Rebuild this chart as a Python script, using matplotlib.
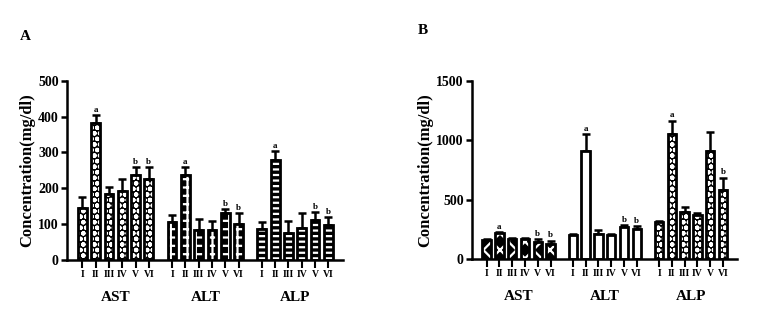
import numpy as np
import matplotlib
matplotlib.use("Agg")
import matplotlib.pyplot as plt

plt.rcParams["font.family"] = ["Liberation Serif", "DejaVu Serif"]
plt.rcParams["font.weight"] = "bold"
plt.rcParams["axes.labelweight"] = "bold"
plt.rcParams["hatch.linewidth"] = 1.6

groups = ["AST", "ALT", "ALP"]
doses = ["I", "II", "III", "IV", "V", "VI"]

# panel A: means and upper error values
a_means = [[145, 383, 183, 192, 238, 225],
           [105, 237, 83, 85, 132, 100],
           [87, 280, 75, 90, 112, 98]]
a_errs = [[30, 22, 20, 33, 20, 33],
          [20, 21, 30, 23, 11, 30],
          [18, 23, 33, 42, 23, 22]]
a_marks = [["", "a", "", "", "b", "b"],
           ["", "a", "", "", "b", "b"],
           ["", "a", "", "", "b", "b"]]

# panel B
b_means = [[160, 215, 165, 170, 145, 130],
           [200, 905, 210, 205, 270, 250],
           [310, 1055, 395, 370, 910, 580]]
b_errs = [[8, 12, 8, 8, 20, 25],
          [8, 145, 35, 8, 12, 30],
          [12, 110, 40, 15, 160, 105]]
b_marks = [["", "a", "", "", "b", "b"],
           ["", "a", "", "", "b", "b"],
           ["", "a", "", "", "", "b"]]

# hatch style per group: (face, hatch colour, hatch)
a_styles = [("black", "white", "ooo"), ("black", "white", "++"), ("black", "white", "---")]
b_styles = [("black", "white", "xx"), ("white", "white", ""), ("black", "white", "ooo")]

gap = 6.75
width = 0.66


def draw(ax, means, errs, marks, styles, ymax, step, off):
    ticks, labels = [], []
    for g in range(3):
        x = np.arange(6) + g * gap
        face, hc, hatch = styles[g]
        ax.bar(x, means[g], width, color=face, edgecolor=hc, hatch=hatch, linewidth=0, zorder=2)
        ax.bar(x, means[g], width, fill=False, edgecolor="black", linewidth=2, zorder=3)
        ax.errorbar(x, means[g], yerr=[np.zeros(6), errs[g]], fmt="none", ecolor="black",
                    elinewidth=1.8, capsize=2.8, capthick=1.8, zorder=1)
        for i in range(6):
            if marks[g][i]:
                ax.text(x[i], means[g][i] + errs[g][i] + off, marks[g][i], ha="center",
                        va="bottom", fontsize=6.5)
        ax.text(x[2] + 0.5, -0.21, groups[g], transform=ax.get_xaxis_transform(),
                ha="center", va="center", fontsize=11)
        ticks += list(x)
        labels += doses
    ax.set_xticks(ticks)
    ax.set_xticklabels(labels, fontsize=7)
    ax.set_xlim(-1.15, 19.6)
    ax.set_ylim(0, ymax)
    ax.set_yticks(np.arange(0, ymax + 1, step))
    ax.tick_params(axis="y", labelsize=10, width=1.8, length=4, pad=2)
    ax.tick_params(axis="x", width=1.5, length=6, pad=1)
    for s in ["top", "right"]:
        ax.spines[s].set_visible(False)
    for s in ["left", "bottom"]:
        ax.spines[s].set_linewidth(1.8)
    ax.set_ylabel("Concentration(mg/dl)", fontsize=12, labelpad=2)


fig = plt.figure(figsize=(7.65, 3.25), dpi=100)
W, H = 765, 325
axA = fig.add_axes([67 / W, 1 - 260 / H, (343 - 67) / W, (260 - 80.7) / H])
axB = fig.add_axes([472 / W, 1 - 259 / H, (737 - 472) / W, (259 - 80.7) / H])

draw(axA, a_means, a_errs, a_marks, a_styles, 500, 100, 3)
draw(axB, b_means, b_errs, b_marks, b_styles, 1500, 500, 10)

fig.text(20 / W, 1 - 36 / H, "A", fontsize=11, ha="left", va="center")
fig.text(418 / W, 1 - 30 / H, "B", fontsize=11, ha="left", va="center")

fig.savefig("out.png", dpi=100)
